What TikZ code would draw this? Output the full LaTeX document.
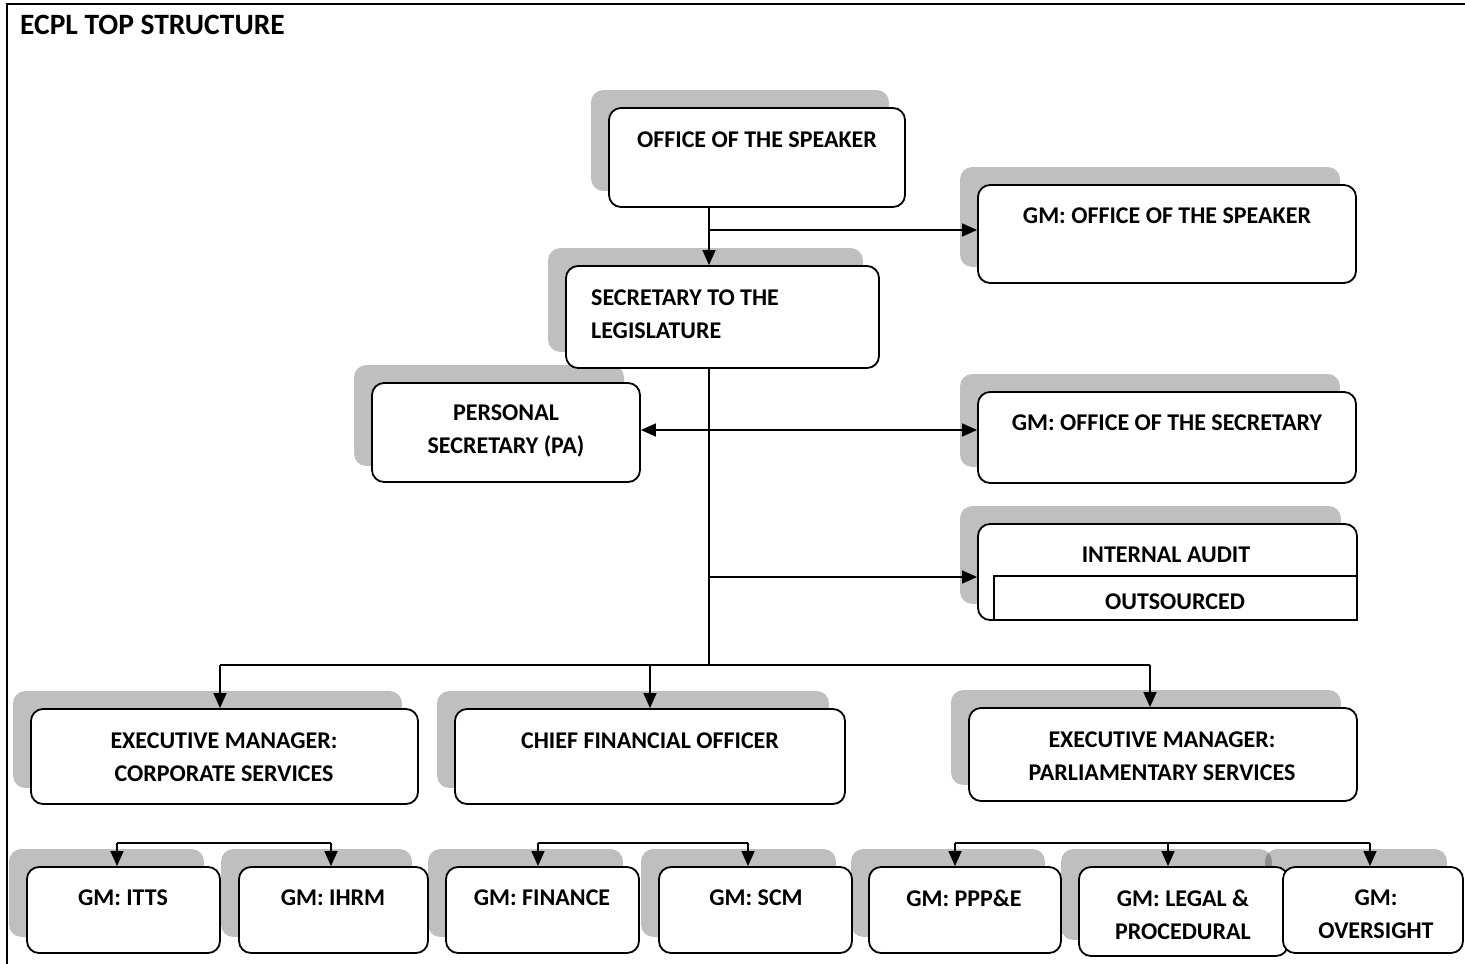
\documentclass[tikz,border=0pt]{standalone}
\usepackage{fontspec}
\setmainfont{Carlito}
\usetikzlibrary{arrows.meta,fit,backgrounds}

\begin{document}
\begin{tikzpicture}[x=1pt, y=-1pt,
    unit/.style={draw, line width=1.8pt, fill=white, rounded corners=12pt, inner sep=0pt},
    caption/.style={font=\bfseries\fontsize{24}{33}\selectfont, align=center, inner sep=0pt},
    link/.style={draw, line width=1.4pt},
    feed/.style={link, -{Triangle[length=15pt, width=13pt]}},
    shade/.style={fill=black, opacity=.25, rounded corners=12pt}
]
    \useasboundingbox (0,0) rectangle (1465,964);
    \draw[line width=2pt] (7,964) -- (7,4) -- (1465,4);
    \node[caption, anchor=west, font=\bfseries\fontsize{29.5}{34}\selectfont] (title) at (20,25) {ECPL TOP STRUCTURE};

    % top of the structure
    \node[unit, fit={(609,108) (905,207)}] (speaker) {};
    \node[unit, fit={(978,185) (1356,283)}] (gmspk) {};
    \node[unit, fit={(566,266) (879,368)}] (sec) {};
    \node[unit, fit={(372,383) (640,482)}] (pa) {};
    \node[unit, fit={(978,392) (1356,483)}] (gmsec) {};
    \node[unit, fit={(978,524) (1357,620)}] (audit) {};
    \node[draw, line width=1.8pt, fill=white, inner sep=0pt, fit={(994,576) (1357,620)}] (outsrc) {};

    \node[caption] at (757,140) {OFFICE OF THE SPEAKER};
    \node[caption] at (1167,216) {GM: OFFICE OF THE SPEAKER};
    \node[caption, align=left, anchor=west] at (591,314.5) {SECRETARY TO THE\\LEGISLATURE};
    \node[caption] at (506,431) {PERSONAL\\SECRETARY (PA)};
    \node[caption] at (1167,423) {GM: OFFICE OF THE SECRETARY};
    \node[caption] at (1166,555) {INTERNAL AUDIT};
    \node[caption] at (1175,602) {OUTSOURCED};

    % executive managers
    \node[unit, fit={(31,709) (418,804)}] (emcorp) {};
    \node[unit, fit={(455,709) (845,804)}] (cfo) {};
    \node[unit, fit={(969,708) (1357,801)}] (emparl) {};

    \node[caption] at (224,757) {EXECUTIVE MANAGER:\\CORPORATE SERVICES};
    \node[caption] at (650,741) {CHIEF FINANCIAL OFFICER};
    \node[caption] at (1162,756.5) {EXECUTIVE MANAGER:\\PARLIAMENTARY SERVICES};

    % general managers
    \node[unit, fit={(27,867) (220,953)}] (itts) {};
    \node[unit, fit={(239,867) (428,953)}] (ihrm) {};
    \node[unit, fit={(446,867) (639,953)}] (fin) {};
    \node[unit, fit={(659,867) (852,953)}] (scm) {};
    \node[unit, fit={(869,867) (1061,953)}] (ppp) {};
    \node[unit, fit={(1079,867) (1288,956)}] (legal) {};
    \node[unit, fit={(1283,867) (1463,953)}] (oversight) {};

    \node[caption] at (123,898) {GM: ITTS};
    \node[caption] at (333,898) {GM: IHRM};
    \node[caption] at (542,898) {GM: FINANCE};
    \node[caption] at (756,898) {GM: SCM};
    \node[caption] at (964,898) {GM: PPP\&E};
    \node[caption] at (1183,914.5) {GM: LEGAL \&\\PROCEDURAL};
    \node[caption] at (1376,914.5) {GM:\\OVERSIGHT};

    % shadows behind every box
    \begin{scope}[on background layer]
        \foreach \u in {speaker,gmspk,sec,pa,gmsec,audit,emcorp,cfo,emparl,itts,ihrm,fin,scm,ppp,legal,oversight}
            \fill[shade] ([shift={(-17,-17)}]\u.north west) rectangle ([shift={(-17,-17)}]\u.south east);
    \end{scope}

    % lines
    \coordinate (spine) at (709,230);
    \coordinate (pajoin) at (709,430);
    \coordinate (auditjoin) at (709,577);
    \coordinate (hub) at (709,665);
    \draw[feed] (speaker.south -| spine) -- (sec.north -| spine);
    \draw[feed] (spine) -- (gmspk.west |- spine);
    \draw[link] (sec.south -| spine) -- (hub);
    \draw[feed] (pajoin) -- (pa.east |- pajoin);
    \draw[feed] (pajoin) -- (gmsec.west |- pajoin);
    \draw[feed] (auditjoin) -- (audit.west |- auditjoin);

    \coordinate (corpjoin) at (220,665);
    \coordinate (parljoin) at (1150,665);
    \draw[link] (corpjoin) -- (parljoin);
    \draw[feed] (corpjoin) -- (emcorp.north -| corpjoin);
    \draw[feed] (cfo.north |- hub) -- (cfo.north);
    \draw[feed] (parljoin) -- (emparl.north -| parljoin);

    \coordinate (ittsjoin) at (117,843);
    \coordinate (ihrmjoin) at (331,843);
    \draw[link] (ittsjoin) -- (ihrmjoin);
    \draw[feed] (ittsjoin) -- (itts.north -| ittsjoin);
    \draw[feed] (ihrmjoin) -- (ihrm.north -| ihrmjoin);

    \coordinate (finjoin) at (538,843);
    \coordinate (scmjoin) at (748,843);
    \draw[link] (finjoin) -- (scmjoin);
    \draw[feed] (finjoin) -- (fin.north -| finjoin);
    \draw[feed] (scmjoin) -- (scm.north -| scmjoin);

    \coordinate (pppjoin) at (955,843);
    \coordinate (legaljoin) at (1168,843);
    \coordinate (overjoin) at (1370,843);
    \draw[link] (pppjoin) -- (overjoin);
    \draw[feed] (pppjoin) -- (ppp.north -| pppjoin);
    \draw[feed] (legaljoin) -- (legal.north -| legaljoin);
    \draw[feed] (overjoin) -- (oversight.north -| overjoin);
\end{tikzpicture}
\end{document}
